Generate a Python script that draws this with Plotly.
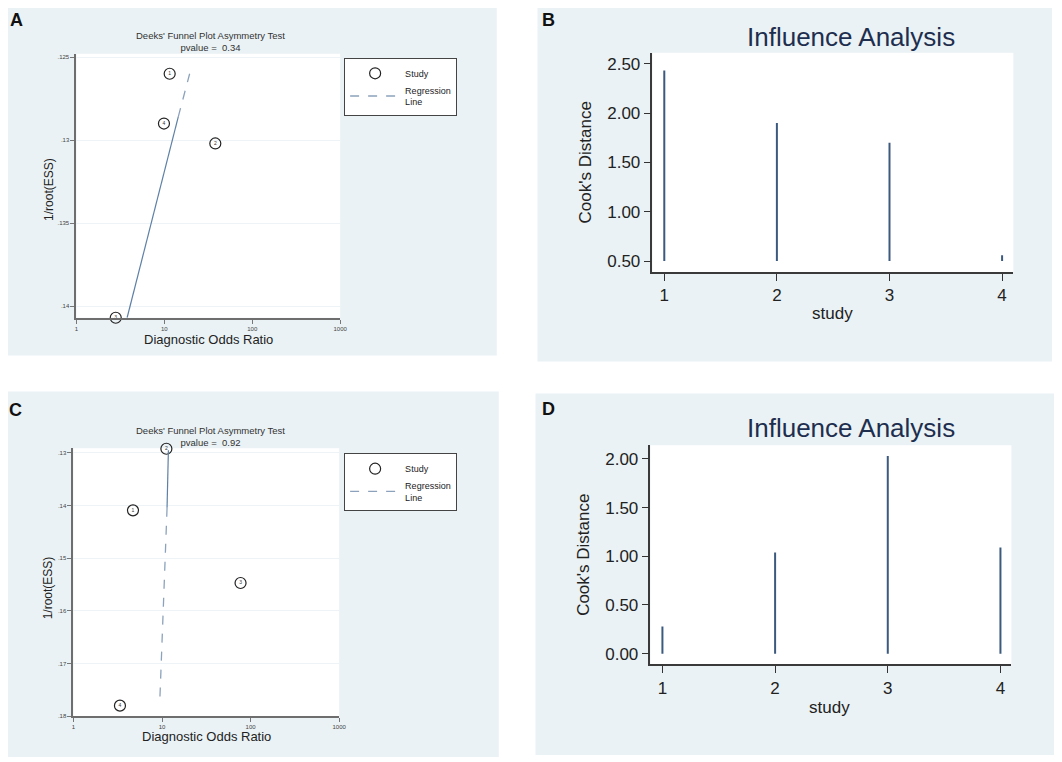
import plotly.graph_objects as go

# Deeks' funnel plots (A, C): diagnostic odds ratio vs 1/root(ESS)
a_dor = [11.5, 9.9, 38, 2.8]
a_ess = [0.1260, 0.1290, 0.1302, 0.1407]
a_lab = ["1", "4", "2", "3"]
a_reg_dor = [3.77, 14.4, 19.4]        # bottom, style break, top
a_reg_ess = [0.1407, 0.1286, 0.1260]
a_pval = "0.34"
a_yticks = [0.125, 0.13, 0.135, 0.14]
a_ytext = [".125", ".13", ".135", ".14"]

c_dor = [11.2, 4.7, 77, 3.35]
c_ess = [0.1292, 0.1409, 0.1547, 0.1780]
c_lab = ["2", "1", "3", "4"]
c_reg_dor = [11.8, 11.4, 9.4]         # top, style break, bottom
c_reg_ess = [0.1295, 0.1404, 0.1779]
c_pval = "0.92"
c_yticks = [0.13, 0.14, 0.15, 0.16, 0.17, 0.18]
c_ytext = [".13", ".14", ".15", ".16", ".17", ".18"]

dor_ticks = [1, 10, 100, 1000]

# Influence analysis (B, D): Cook's distance per study
study = [1, 2, 3, 4]
b_cook = [2.43, 1.90, 1.70, 0.56]
b_base = 0.5
b_yticks = [0.5, 1.0, 1.5, 2.0, 2.5]
d_cook = [0.28, 1.04, 2.03, 1.09]
d_base = 0.0
d_yticks = [0.0, 0.5, 1.0, 1.5, 2.0]

# page has an 8px body margin, so shift the layout grid by it
OFF = 8
W, H = 1054, 754
FONT = "Arial, Liberation Sans, sans-serif"
PANEL_BG = "#EAF2F5"
SPIKE = "#3C5A7E"
REG_SOLID = "#5E80A6"
REG_DASH = "#8CA2BC"


def px(x):
    return (x - OFF) / W


def py(y):
    return 1 - (y - OFF) / H


fig = go.Figure()

# ---- funnel plot traces
for xa, ya, leg, dor, ess, lab, rx, ry in [
    ("x", "y", "legend", a_dor, a_ess, a_lab, a_reg_dor, a_reg_ess),
    ("x2", "y2", "legend2", c_dor, c_ess, c_lab, c_reg_dor, c_reg_ess),
]:
    fig.add_trace(go.Scatter(
        x=dor, y=ess, text=lab, mode="markers+text", name="Study",
        xaxis=xa, yaxis=ya, legend=leg, cliponaxis=False,
        marker=dict(symbol="circle-open", size=11, color="#222", line=dict(width=1.2)),
        textfont=dict(size=5, color="#333"), textposition="middle center",
    ))
    fig.add_trace(go.Scatter(
        x=rx[1:], y=ry[1:], mode="lines",
        name="Regression<br>Line", xaxis=xa, yaxis=ya, legend=leg,
        line=dict(color=REG_DASH, width=1.3, dash="dash"),
    ))
    fig.add_trace(go.Scatter(
        x=rx[:2], y=ry[:2], mode="lines", showlegend=False,
        xaxis=xa, yaxis=ya, line=dict(color=REG_SOLID, width=1.2),
    ))

# ---- influence spikes (one vertical segment per study)
for xa, ya, cook, base in [("x3", "y3", b_cook, b_base), ("x4", "y4", d_cook, d_base)]:
    sx, sy = [], []
    for s, v in zip(study, cook):
        sx += [s, s, None]
        sy += [base, v, None]
    fig.add_trace(go.Scatter(
        x=sx, y=sy, mode="lines", line=dict(color=SPIKE, width=2),
        showlegend=False, xaxis=xa, yaxis=ya,
    ))

funnel_x = dict(type="log", range=[0, 3], tickvals=dor_ticks, ticktext=["1", "10", "100", "1000"],
                ticks="outside", ticklen=4, tickcolor="#777", tickfont=dict(size=6, color="#444"),
                showline=True, linecolor="#6E6E6E", linewidth=2, showgrid=False, zeroline=False)
funnel_y = dict(ticks="outside", ticklen=4, tickcolor="#777", tickfont=dict(size=6, color="#444"),
                showline=True, linecolor="#6E6E6E", linewidth=2, showgrid=True,
                gridcolor="#EDF3F6", gridwidth=1, zeroline=False)
infl_x = dict(range=[0.895, 4.1], tickvals=study, ticks="outside", ticklen=7, tickcolor="#333",
              tickfont=dict(size=17, color="#222"), showline=True, linecolor="#3A3A3A",
              linewidth=1.5, showgrid=False, zeroline=False)
infl_y = dict(tickformat=".2f", ticks="outside", ticklen=7, tickcolor="#333",
              tickfont=dict(size=17, color="#222"), showline=True, linecolor="#3A3A3A",
              linewidth=1.5, showgrid=False, zeroline=False)

legend_style = dict(xanchor="left", yanchor="top", bgcolor="white", bordercolor="#444",
                    borderwidth=1, font=dict(size=9, color="#222"), itemwidth=50,
                    tracegroupgap=0)

fig.update_layout(
    width=W, height=H, margin=dict(l=0, r=0, t=0, b=0),
    paper_bgcolor="white", plot_bgcolor="white",
    font=dict(family=FONT, color="#222"),
    xaxis=dict(funnel_x, domain=[px(75), px(341)], anchor="y"),
    yaxis=dict(funnel_y, domain=[py(319), py(54)], anchor="x", range=[0.1407, 0.1248],
               tickvals=a_yticks, ticktext=a_ytext),
    xaxis2=dict(funnel_x, domain=[px(72), px(340)], anchor="y2"),
    yaxis2=dict(funnel_y, domain=[py(719), py(450)], anchor="x2", range=[0.18, 0.1291],
                tickvals=c_yticks, ticktext=c_ytext),
    xaxis3=dict(infl_x, domain=[px(656), px(1020)], anchor="y3"),
    yaxis3=dict(infl_y, domain=[py(273), py(53)], anchor="x3", range=[0.39, 2.61], tickvals=b_yticks),
    xaxis4=dict(infl_x, domain=[px(654), px(1018)], anchor="y4", range=[0.894, 4.097]),
    yaxis4=dict(infl_y, domain=[py(667), py(447)], anchor="x4", range=[-0.11, 2.14], tickvals=d_yticks),
    legend=dict(legend_style, x=px(345), y=py(58)),
    legend2=dict(legend_style, x=px(345), y=py(455)),
)

# panel backgrounds and white plot areas
shapes = []
for x0, y0, x1, y1 in [(3, 2, 499, 357), (540, 2, 1059, 363), (3, 393, 501, 760), (538, 395, 1061, 758)]:
    shapes.append(dict(type="rect", xref="paper", yref="paper", x0=px(x0), x1=px(x1),
                       y0=py(y1), y1=py(y0), fillcolor=PANEL_BG, line=dict(width=0), layer="below"))
for x0, y0, x1, y1 in [(75, 54, 341, 319), (656, 53, 1020, 273), (72, 450, 340, 719), (654, 447, 1018, 667)]:
    shapes.append(dict(type="rect", xref="paper", yref="paper", x0=px(x0), x1=px(x1),
                       y0=py(y1), y1=py(y0), fillcolor="white", line=dict(width=0), layer="below"))
fig.update_layout(shapes=shapes)

ann = []


def text(x, y, s, size, color="#222", angle=0, bold=False, yanchor="middle"):
    ann.append(dict(x=px(x), y=py(y), xref="paper", yref="paper", text=f"<b>{s}</b>" if bold else s,
                    showarrow=False, textangle=angle, xanchor="center", yanchor=yanchor,
                    font=dict(size=size, color=color, family=FONT)))


# panel letters
text(15, 8, "A", 18, "#111", bold=True, yanchor="top")
text(551, 8, "B", 18, "#111", bold=True, yanchor="top")
text(14, 412, "C", 18, "#111", bold=True)
text(551, 411, "D", 18, "#111", bold=True)

# funnel plot titles and axis titles
text(210, 42, f"Deeks' Funnel Plot Asymmetry Test<br>pvalue =  {a_pval}", 9.5, "#333")
text(210, 438, f"Deeks' Funnel Plot Asymmetry Test<br>pvalue =  {c_pval}", 9.5, "#333")
text(208, 341, "Diagnostic Odds Ratio", 13)
text(206, 739, "Diagnostic Odds Ratio", 13)
text(48, 190, "1/root(ESS)", 12, angle=-90)
text(46, 590, "1/root(ESS)", 12, angle=-90)

# influence titles and axis titles
text(856, 37, "Influence Analysis", 26, "#1E2E4E")
text(856, 430, "Influence Analysis", 26, "#1E2E4E")
text(588, 163, "Cook's Distance", 17, angle=-90)
text(587, 557, "Cook's Distance", 17, angle=-90)
text(838, 315, "study", 17)
text(835, 710, "study", 17)

fig.update_layout(annotations=ann)

fig.write_html("out.html")
